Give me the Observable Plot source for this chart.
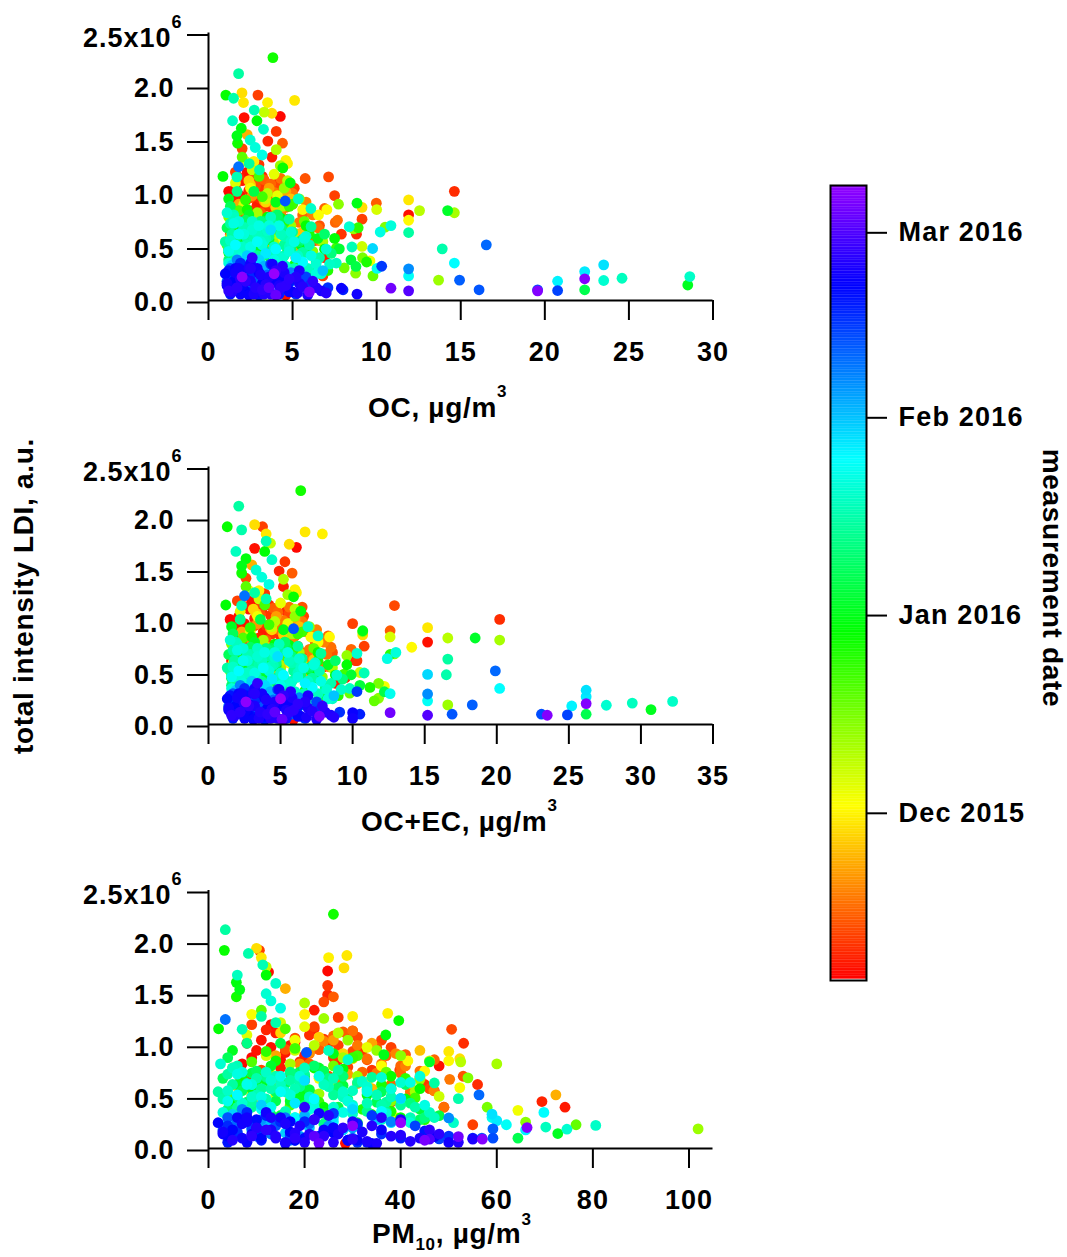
<!DOCTYPE html>
<html><head><meta charset="utf-8">
<script src="https://cdn.jsdelivr.net/npm/d3@7"></script>
<script src="https://cdn.jsdelivr.net/npm/@observablehq/plot@0.6"></script>
<style>
html,body{margin:0;padding:0;background:#fff;}
#root{position:relative;width:1067px;height:1257px;overflow:hidden;background:#fff;}
.ttl{font-family:"Liberation Sans",Arial,Helvetica,sans-serif;font-weight:bold;font-size:28px;letter-spacing:0.7px;fill:#000;}
</style></head><body><div id="root"></div>
<script>
// rows: [day, OC, OC+EC, PM10, LDI (x1e6)]
const nov = [
[5,1.3,1.6,6,0.62],[5,1.5,2.0,9,0.88],[6,1.6,2.1,11,1.05],[6,1.9,2.5,13,0.98],[7,2.0,2.8,14,1.12],
[7,2.2,2.9,16,0.93],[8,2.4,3.2,18,1.03],[8,2.6,3.5,19,0.84],[9,2.8,3.7,21,1.10],[9,3.0,4.0,23,0.96],
[10,3.2,4.3,24,1.06],[10,3.4,4.4,26,0.88],[11,3.6,4.8,27,1.00],[11,3.8,5.0,29,0.79],[12,4.0,5.4,30,0.94],
[12,4.2,5.6,31,1.08],[13,4.4,6.0,33,0.86],[13,4.6,6.2,35,0.98],[14,4.8,6.5,36,0.70],[14,5.0,6.8,37,0.90],
[15,5.3,7.0,38,0.62],[15,5.6,7.4,40,0.80],[16,6.0,7.8,42,0.55],[16,6.5,8.2,44,0.68],[5,1.2,1.5,8,1.02],
[6,1.4,1.9,10,0.95],[7,1.7,2.3,15,0.78],[8,1.8,2.4,12,1.15],[9,2.3,3.1,17,0.72],[10,2.5,3.3,20,0.66],
[11,2.7,3.6,22,1.18],[12,2.9,3.9,25,0.70],[13,3.1,4.2,19,0.58],[14,3.3,4.5,28,1.13],[15,3.5,4.7,32,0.74],
[16,3.7,4.9,21,0.92],[17,3.9,5.2,34,1.01],[17,4.1,5.5,27,0.66],[18,4.3,5.8,36,0.82],[18,4.5,6.1,24,1.04],
[12,4.9,6.6,46,0.58],[9,5.2,6.9,49,0.40],[10,6.3,8.0,47,0.56],[11,6.8,7.9,55,0.23],[8,7.2,9.5,69.4,0.455],
[7,6.9,8.8,74.2,0.40],[6,4.6,5.9,28.5,0.05],[10,7.9,10.3,45,0.62],[13,6.1,7.6,38,0.45],
[11,2.94,3.75,10.6,1.92],[6,2.12,3.2,12.5,1.71],[5,4.27,6.1,24.8,1.72],[10,4.03,5.3,24.8,1.58],[8,3.53,4.9,24.8,1.49],
[7,3.77,5.2,22,1.34],[12,7.14,12.9,50.6,1.155],[13,5.75,6.5,30,1.14],[9,14.62,20.2,53.1,1.02],[14,9.98,12.6,41,0.91],
[6,11.9,15.2,48,0.80],[11,9.13,10.8,39.8,0.76],[15,7.54,9.9,40,0.73],[16,7.67,8.5,44,0.75],[17,5.9,7.2,50.2,0.67],
[18,6.6,8.4,46.9,0.56],[16,5.4,7.0,49,0.40],
[5,1.4,1.8,7,0.82],[5,1.7,2.3,12,0.70],[6,2.0,2.7,15,0.86],[6,2.3,3.0,13,1.20],[7,2.6,3.4,17,1.00],
[7,2.9,3.8,20,0.90],[8,3.2,4.2,22,1.16],[8,3.5,4.6,25,1.02],[9,3.8,5.0,27,0.86],[9,4.1,5.4,29,1.10],
[10,4.4,5.8,32,0.95],[10,4.7,6.2,34,0.76],[11,5.1,6.6,36,1.05],[11,1.6,2.0,9,1.20],[12,1.9,2.4,11,0.76],
[12,2.2,2.8,14,0.64],[13,2.5,3.2,16,0.96],[13,2.8,3.6,18,1.07],[14,3.1,4.0,21,0.82],[14,3.4,4.4,23,0.96],
[15,3.7,4.8,26,1.09],[15,4.0,5.2,28,0.70],[16,4.3,5.6,30,1.14],[16,4.6,6.0,33,0.87],[17,5.0,6.5,31,1.00],
[17,5.4,7.0,35,0.73],[18,5.8,7.5,39,0.92],[18,6.2,8.0,41,0.80],[12,2.0,2.6,24,1.42],[10,3.0,3.9,27,1.27],
[14,4.4,5.8,26,1.47],[8,1.5,1.9,8,0.65],[13,6.6,8.6,53,0.70],[15,6.9,8.3,47,0.86],[11,7.5,10.0,38,0.98],
[9,8.8,10.2,56,0.62],
[19,1.4,1.8,9,0.55],[19,2.0,2.7,14,0.60],[20,2.6,3.4,18,0.98],[20,3.1,4.1,22,0.52],[21,3.6,4.7,26,1.05],
[21,4.2,5.4,31,0.63],[22,4.6,6.0,34,1.02],[22,5.1,6.7,38,0.48],[23,2.3,3.0,16,1.55],[23,3.7,4.8,72.3,0.52],
[24,1.7,2.2,11,0.45],[24,3.2,4.1,24,0.75],[25,2.9,3.7,20,0.35],[25,5.5,7.3,42,0.63],[26,4.0,5.2,30,0.87],
[19,2.3,3.0,19,0.82],[20,3.3,4.3,21,0.93],[21,4.4,5.7,29,0.72],[22,1.8,2.3,14,0.90],[23,2.8,3.6,18,0.70],
[24,3.9,5.1,34,0.58],[25,4.9,6.3,44,0.95],[26,1.3,1.7,6,0.60],[26,2.5,3.3,23,1.08],
[27,2.4,3.1,15,1.12],[27,3.4,4.4,28,0.92],[28,4.3,5.6,33,0.64],[29,1.5,2.0,9,0.52],[30,2.7,3.5,20,1.30],
[28,1.99,3.2,10,1.94],[29,2.08,4.0,11,1.85],[30,3.51,7.9,25,1.85],[29,5.12,6.7,28.8,1.87],[28,3.77,5.6,28.2,1.75],
[30,4.6,6.0,37.3,1.31],[30,4.70,6.1,30,1.28],[29,11.9,15.2,50,0.94],[28,9.13,10.7,52.3,0.87]
];
const dec = [
[1,7.04,8.4,41.5,0.85],[2,6.54,7.6,36,0.80],[1,11.9,14.1,45,0.75],[3,9.6,12.2,64.4,0.37],[3,2.5,3.4,18,1.05],
[3,3.3,4.4,23,0.68],[4,4.1,5.5,33,0.98],[2,1.8,2.4,13,0.72],[4,2.8,3.6,17,0.50],[1,5.6,7.1,50,0.85],
[2,4.4,5.7,52.3,0.59],[4,3.9,5.0,20,1.18],[3,1.4,1.9,7,0.42],[2,2.2,2.8,9,1.30],[4,5.0,6.6,39,0.30],
[8,3.31,4.3,12,1.76],[10,4.03,5.2,20,1.41],[12,4.27,5.5,24,1.26],[14,7.73,10.7,40,0.90],[6,10.0,12.6,46,0.85],
[9,12.55,16.6,52.5,0.84],[11,14.62,20.2,60,0.82],[13,8.63,9.6,44,0.67],[15,10.5,12.9,54,0.685],[7,9.13,10.5,48,0.505],
[16,9.16,11.8,58,0.40],[17,8.07,9.8,47,0.305],[18,9.78,11.5,76.5,0.23],[12,13.68,16.6,101.9,0.19],[14,8.75,11.8,66,0.255],
[5,1.6,2.2,8,1.10],[6,2.1,2.9,12,0.90],[7,2.6,3.5,15,1.22],[8,3.0,3.9,19,0.74],[9,3.5,4.6,22,1.00],
[10,3.8,4.9,26,0.58],[11,4.4,5.8,28,0.88],[12,4.9,6.3,31,0.70],[13,5.4,7.0,35,0.95],[14,6.2,7.9,38,0.46],
[15,1.2,1.6,5,0.78],[16,1.9,2.6,10,0.62],[17,2.9,3.7,16,0.35],[18,3.6,4.5,21,0.42],[9,4.7,6.0,27,1.12],
[11,6.8,8.6,43,0.55],[13,2.4,3.2,14,0.28],
[5,1.4,1.8,7,0.66],[6,2.4,3.2,14,0.52],[7,3.4,4.4,18,0.95],[8,4.2,5.4,24,0.36],[9,5.0,6.5,33,0.60],
[10,1.9,2.5,11,0.40],[11,2.9,3.8,17,0.82],[12,3.9,5.0,23,0.53],[13,4.5,6.0,29,1.05],[14,1.2,1.6,4,0.48],
[15,2.2,2.9,13,0.70],[16,3.2,4.2,20,0.56],[17,4.0,5.3,26,0.80],[18,5.7,7.3,37,0.74],
[19,1.1,1.5,4,0.52],[20,1.8,2.4,9,0.84],[21,2.5,3.3,13,0.60],[22,3.2,4.2,18,0.97],[23,3.9,5.1,23,0.45],
[24,4.5,5.9,27,0.73],[25,5.3,6.8,32,0.38],[26,6.0,7.6,36,0.62],[19,2.0,2.6,11,1.34],[21,3.0,3.9,16,1.16],
[23,4.8,6.2,30,0.88],[25,7.1,9.0,45,0.28],[20,1.5,2.0,6,0.25],[22,2.7,3.6,12,0.18],[24,8.9,12.6,41,0.68],
[19,1.6,2.1,7,0.68],[20,2.9,3.8,17,0.42],[21,4.1,5.4,25,0.66],[22,5.0,6.5,31,0.90],[23,1.3,1.7,5,0.33],
[24,2.2,2.9,12,0.94],[25,3.5,4.5,20,0.58],[26,4.7,6.1,29,0.46],[26,9.4,11.2,38,0.36],[22,7.6,9.4,43,0.49],
[27,3.83,6.4,26,2.27],[28,1.03,1.3,3.3,1.92],[29,2.88,3.9,12,1.68],[30,1.95,2.6,5.8,1.61],[31,1.69,2.3,6.5,1.54],
[27,1.73,2.3,5.8,1.47],[28,4.42,5.9,39.6,1.24],[29,0.86,1.2,2.1,1.16],[30,4.86,6.4,36.9,1.10],[31,8.83,10.7,36.5,0.91],
[27,2.3,3.0,14,0.85],[28,3.1,4.1,19,0.62],[29,3.7,4.8,24,0.40],[30,4.3,5.6,28,0.77],[31,5.5,7.1,33,0.52],
[27,1.4,1.9,7,0.70],[29,6.3,8.0,40,0.30],
[27,2.6,3.4,15,0.58],[28,3.5,4.6,22,0.78],[29,1.2,1.6,5,0.45],[30,2.0,2.6,10,0.66],[31,3.3,4.3,20,0.55],
[31,4.0,5.2,26,0.92],[30,6.9,8.8,41,0.48],[28,5.8,7.6,38,0.70],[29,7.5,9.6,44,0.58],[27,5.1,6.7,34,0.33]
];
const jan = [
[2,14.22,18.5,46,0.84],[3,7.78,9.9,40,0.483],[4,8.47,10.5,44,0.38],[5,8.77,12.2,48,0.318],[1,28.5,30.7,72.7,0.145],
[6,22.37,26.2,64.4,0.10],[1,1.2,1.6,5,0.95],[1,1.9,2.5,9,0.58],[2,2.4,3.2,13,0.80],[2,3.0,3.9,17,0.46],
[3,3.5,4.6,20,0.70],[3,4.1,5.4,24,0.34],[4,4.6,6.0,28,0.61],[4,5.2,6.8,31,0.25],[5,1.5,2.0,7,0.40],
[5,2.7,3.6,15,1.02],[6,3.3,4.4,19,0.74],[6,5.8,7.5,35,0.45],[1,6.5,8.3,38,0.58],[2,1.7,2.3,4,0.20],
[3,2.1,2.8,11,0.12],
[1,2.2,2.9,12,0.66],[1,3.2,4.1,19,0.50],[2,4.0,5.2,23,0.78],[3,1.4,1.8,6,0.62],[3,2.8,3.6,15,0.32],
[4,3.6,4.7,21,0.57],[5,4.4,5.7,27,0.40],[6,1.8,2.3,9,0.73],[6,2.5,3.3,14,0.46],
[7,1.1,1.4,3,0.68],[7,1.8,2.4,8,0.45],[8,2.2,2.9,10,0.75],[8,2.9,3.8,14,0.55],[9,3.4,4.5,18,0.72],
[9,3.9,5.1,21,0.38],[10,4.4,5.8,25,0.66],[10,4.9,6.4,29,0.48],[11,5.6,7.2,33,0.57],[11,6.4,8.1,37,0.36],
[12,1.4,1.9,5,0.30],[12,2.0,2.6,9,0.62],[13,2.6,3.4,12,0.70],[13,3.2,4.1,16,0.28],[14,3.8,4.9,20,0.72],
[14,4.5,5.9,26,0.52],[7,1.3,1.7,4,0.88],[8,2.5,3.3,13,0.33],[9,4.1,5.3,22,0.80],[10,5.1,6.6,30,0.22],
[11,7.3,9.3,42,0.44],[12,1.7,2.2,8,1.02],[13,3.6,4.7,19,0.60],[14,6.1,7.8,34,0.69],[9,2.0,2.7,10,0.16],
[11,4.0,5.2,45,0.30],
[7,3.0,3.9,16,0.63],[7,4.2,5.4,24,0.75],[8,1.6,2.1,7,0.56],[8,3.6,4.7,20,0.42],[9,4.7,6.1,27,0.59],
[10,1.2,1.6,4,0.38],[10,2.6,3.4,12,0.69],[11,3.1,4.0,17,0.74],[12,3.7,4.8,21,0.46],[12,4.3,5.6,25,0.68],
[13,1.9,2.5,9,0.40],[13,5.0,6.5,31,0.64],[14,2.3,3.0,11,0.58],[14,2.9,3.7,40,0.42],[7,5.4,7.0,36,0.55],
[9,6.9,8.8,41,0.62],[11,1.5,1.9,6,0.50],[13,4.0,5.1,33,0.36],[8,5.9,7.7,44,0.28],[10,3.3,4.3,28,0.70],
[12,2.6,3.3,24,0.24],
[15,1.79,2.1,3.5,2.12],[16,1.49,2.3,8.3,1.89],[17,2.72,4.0,11.3,1.78],[18,1.43,1.9,6,1.68],[19,3.27,4.4,14,1.60],
[20,2.48,3.3,12,1.50],[21,2.78,3.7,13,1.43],[22,3.19,4.2,15,1.36],[15,2.42,3.2,11,1.28],[16,3.03,4.0,14,1.22],
[17,1.69,2.3,7,1.155],[18,5.34,6.9,25,0.95],[19,6.09,7.6,29,0.86],[20,8.37,10.3,36,0.69],[21,10.85,13.0,44,0.70],
[22,10.21,12.4,42,0.64],[15,11.9,16.6,47,0.635],[16,13.9,16.5,52,0.483],[17,8.53,10.8,38,0.50],[18,24.59,29.4,70.2,0.208],
[19,28.62,32.2,80.6,0.224],[20,23.5,27.6,74.6,0.187],
[15,1.0,1.3,2,0.55],[15,1.3,1.7,4,0.72],[15,1.6,2.1,6,0.40],[16,1.9,2.5,8,0.63],[16,2.2,2.9,10,0.68],
[16,2.5,3.3,12,0.48],[17,2.8,3.7,14,0.70],[17,3.1,4.1,16,0.36],[17,3.4,4.5,18,0.58],[18,3.7,4.9,20,0.78],
[18,4.0,5.3,22,0.44],[18,4.3,5.6,24,0.62],[19,4.6,6.0,26,0.32],[19,4.9,6.4,28,0.55],[19,5.3,6.9,30,0.42],
[20,5.8,7.4,33,0.60],[20,6.4,8.2,37,0.34],[20,7.0,8.9,40,0.48],[21,1.2,1.6,3,0.35],[21,1.8,2.4,7,0.74],
[21,2.4,3.1,11,0.27],[22,3.0,3.9,15,0.70],[22,3.6,4.7,19,0.25],[22,4.2,5.5,23,0.70],[15,4.8,6.2,27,0.76],
[16,5.5,7.1,31,0.22],[17,6.0,7.7,35,0.52],[18,1.5,2.0,5,0.78],[19,2.0,2.6,9,0.50],[20,2.6,3.4,13,0.66],
[21,3.2,4.2,17,0.52],[22,3.9,5.0,21,0.38],[15,2.9,3.8,25,0.20],[16,4.5,5.8,36,0.42],[17,5.1,6.6,42,0.30],
[18,7.6,9.8,46,0.35],[19,3.5,4.6,32,0.65],[20,1.1,1.5,2.5,0.82],[21,5.7,7.3,38,0.58],
[15,1.4,1.8,5,0.62],[15,2.1,2.8,9,0.45],[15,3.3,4.3,17,0.66],[16,1.2,1.6,3,0.48],[16,2.7,3.5,13,0.58],
[16,3.6,4.6,19,0.66],[17,1.5,1.9,6,0.80],[17,2.3,3.0,10,0.52],[17,4.5,5.8,25,0.60],[18,2.0,2.6,8,0.36],
[18,2.9,3.7,15,0.62],[18,4.8,6.2,28,0.50],[19,1.3,1.7,4,0.56],[19,2.6,3.4,12,0.74],[19,3.9,5.0,21,0.50],
[20,1.7,2.2,7,0.44],[20,3.1,4.0,16,0.55],[20,4.4,5.7,26,0.40],[21,2.1,2.7,9,0.62],[21,3.6,4.6,19,0.70],
[21,4.8,6.2,29,0.46],[22,1.5,2.0,6,0.72],[22,2.5,3.2,11,0.50],[22,5.1,6.6,33,0.55],[15,5.6,7.2,37,0.45],
[16,6.6,8.5,43,0.40],[17,3.8,4.9,33,0.44],[18,5.9,7.6,47,0.30],[19,6.7,8.6,51,0.25],[20,3.9,5.0,36,0.28],
[21,1.9,2.4,22,0.40],[22,2.9,3.7,28,0.35],[16,1.6,2.1,18,0.30],[18,3.3,4.3,30,0.56],[20,4.9,6.3,40,0.64],
[22,6.1,7.8,45,0.42],[17,2.1,2.7,26,0.68],[19,7.2,9.2,30,0.34],[21,6.4,8.3,42,0.25],
[23,10.02,12.6,59,0.30],[24,11.9,15.2,62,0.23],[25,14.62,20.2,69.8,0.35],[26,20.76,25.2,66,0.18],[27,22.37,26.2,60,0.27],
[28,23.5,26.2,59,0.333],[29,9.76,15.2,40,0.486],[23,1.2,1.6,4,0.46],[23,1.8,2.4,8,0.62],[24,2.3,3.0,11,0.38],
[24,2.9,3.8,15,0.55],[25,3.4,4.4,18,0.30],[25,4.0,5.2,22,0.48],[26,4.6,5.9,26,0.26],[26,5.2,6.7,30,0.40],
[27,1.5,2.0,6,0.28],[27,2.6,3.4,13,0.20],[28,3.7,4.8,20,0.66],[29,4.9,6.3,28,0.18],[30,1.4,1.9,5,0.33],
[30,3.0,3.9,16,0.15],[31,2.2,2.9,10,0.24],[31,6.8,8.7,35,0.28],
[23,2.6,3.4,13,0.40],[24,3.5,4.5,19,0.26],[25,1.6,2.1,6,0.52],[26,2.4,3.1,12,0.34],[27,3.4,4.4,18,0.44],
[28,4.4,5.7,26,0.30],[29,1.2,1.6,4,0.24],[30,2.3,3.0,11,0.42],[31,3.8,4.9,21,0.20],[25,5.6,7.2,36,0.36],
[27,4.2,5.4,38,0.25],[29,3.0,3.9,30,0.38]
];
const feb = [
[1,1.3,1.7,4,0.30],[2,2.0,2.6,9,0.18],[3,2.8,3.6,14,0.26],[4,3.5,4.5,19,0.12],[5,4.4,5.6,25,0.22],
[6,11.9,15.2,50,0.296],[7,1.7,2.2,7,0.38],[8,3.2,4.2,17,0.08],
[1,2.4,3.1,12,0.24],[2,3.3,4.3,20,0.32],[3,1.5,1.9,6,0.14],[4,4.2,5.4,30,0.20],[5,2.2,2.9,11,0.28],
[6,3.0,3.9,24,0.16],[7,4.9,6.3,38,0.26],[8,1.9,2.4,16,0.30],
[9,1.79,2.5,3.5,1.25],[10,16.52,19.9,56.3,0.52],[11,14.93,18.3,59.2,0.19],[12,16.09,16.9,56.9,0.10],[13,19.57,23.1,59.2,0.10],
[14,20.76,24.9,48,0.093],[15,10.3,10.3,34,0.32],[12,4.56,5.9,20.4,0.93],
[9,1.1,1.4,3,0.18],[10,1.6,2.1,6,0.26],[11,2.1,2.8,10,0.12],[12,2.7,3.5,14,0.22],[13,3.3,4.3,18,0.08],
[14,3.9,5.0,22,0.28],[15,4.5,5.8,27,0.15],[16,5.2,6.7,31,0.06],[17,1.4,1.8,5,0.10],[18,2.4,3.1,12,0.32],
[19,3.0,3.9,16,0.05],[20,4.2,5.4,26,0.20],[16,6.0,7.7,36,0.14],[17,1.9,2.5,8,0.35],[18,3.6,4.6,40,0.10],
[19,4.8,6.2,45,0.17],[20,2.2,2.9,29,0.08],
[9,2.5,3.2,13,0.14],[10,3.5,4.5,21,0.24],[11,4.5,5.8,30,0.10],[12,1.3,1.7,4,0.30],[13,2.0,2.6,9,0.20],
[14,2.9,3.8,17,0.13],[15,3.7,4.8,26,0.34],[16,1.6,2.0,11,0.16],[17,2.6,3.4,20,0.26],[18,4.2,5.4,33,0.06],
[19,1.2,1.5,7,0.28],[20,3.3,4.2,23,0.12],[14,5.8,7.5,43,0.22],[16,7.1,9.1,50,0.12],[18,8.0,10.5,55,0.10],
[21,1.0,1.3,2,0.25],[21,1.3,1.7,4,0.12],[22,1.6,2.1,6,0.30],[22,1.9,2.5,8,0.06],[23,2.2,2.8,10,0.20],
[23,2.5,3.2,12,0.35],[24,2.8,3.6,14,0.10],[24,3.1,4.0,16,0.24],[25,3.4,4.4,18,0.15],[25,3.7,4.8,20,0.06],
[26,4.0,5.2,22,0.28],[26,4.3,5.6,24,0.12],[22,4.6,6.0,26,0.20],[22,5.0,6.4,29,0.08],[24,5.4,6.9,32,0.16],
[24,5.9,7.5,35,0.05],[25,6.4,8.1,38,0.12],[25,7.0,8.7,42,0.07],[21,1.5,1.9,5,0.18],[22,2.0,2.6,9,0.14],
[23,2.9,3.7,15,0.30],[24,3.6,4.6,19,0.22],[25,4.4,5.7,25,0.32],[26,1.2,1.6,30,0.09],[22,2.4,3.1,34,0.05],
[24,3.3,4.2,44,0.10],[25,4.1,5.3,52,0.06],[22,7.9,10.0,47,0.115],[23,8.83,10.0,50,0.059],[24,6.7,8.5,55,0.09],
[25,5.6,7.2,40,0.13],[26,2.6,3.4,20,0.40],
[21,2.1,2.7,11,0.10],[21,3.0,3.9,17,0.26],[22,3.9,5.0,24,0.18],[22,4.8,6.2,31,0.08],[23,1.1,1.4,3,0.16],
[23,1.8,2.3,7,0.24],[24,2.4,3.1,13,0.30],[24,4.2,5.4,27,0.14],[25,5.2,6.7,34,0.22],[25,1.4,1.8,5,0.08],
[26,2.2,2.8,12,0.18],[26,3.2,4.1,18,0.10],[23,3.8,4.9,23,0.34],[23,1.6,2.0,8,0.26],[24,2.7,3.5,16,0.06],
[24,4.5,5.8,30,0.26],[25,1.9,2.5,10,0.20],[25,3.5,4.5,21,0.14],[24,5.4,6.9,40,0.28],[26,6.2,7.9,46,0.18],
[21,1.3,1.7,26,0.15],[25,2.5,3.2,36,0.30],
[16,1.6,2.1,6,0.16],[17,2.6,3.4,15,0.26],[18,4.4,5.7,31,0.24],[19,1.3,1.7,4,0.06],[20,2.0,2.6,10,0.28],
[21,3.0,3.9,18,0.08],[22,4.2,5.4,36,0.18],[23,1.5,1.9,7,0.10],[24,2.5,3.2,13,0.18],[25,3.3,4.3,26,0.06],
[26,4.6,5.9,48,0.14],[26,1.7,2.2,9,0.12],[17,1.4,1.8,4,0.22],[19,2.3,3.0,11,0.08],[21,3.2,4.1,17,0.16],
[23,1.8,2.3,8,0.30],[25,2.8,3.6,14,0.12],[26,4.8,6.2,28,0.20],[20,3.6,4.6,20,0.10],[22,1.1,1.4,3,0.14],
[24,5.3,6.8,33,0.07]
];
const mar = [
[1,11.9,15.2,46,0.09],[4,10.85,12.6,52,0.115],[6,22.37,26.2,66.3,0.203],[6,19.57,23.5,57,0.09],[3,4.0,5.1,23,0.05],
[7,2.0,2.6,30,0.22],[5,6.0,7.7,45,0.08],[2,3.6,4.6,22,0.12],[8,3.9,5.0,40,0.25]
];

const yTicks = [0, 0.5e6, 1e6, 1.5e6, 2e6, 2.5e6];
const ocTicks = [0, 5, 10, 15, 20, 25, 30];
const ocecTicks = [0, 5, 10, 15, 20, 25, 30, 35];
const pmTicks = [0, 20, 40, 60, 80, 100];
const monthTicks = [Date.UTC(2015, 11, 1), Date.UTC(2016, 0, 1), Date.UTC(2016, 1, 1), Date.UTC(2016, 2, 1)].map(d => new Date(d));
const dateStart = Date.UTC(2015, 10, 4, 19);
const dateEnd = Date.UTC(2016, 2, 8, 10);

function rows(arr, y, m) {
  return arr.map(([d, oc, ocec, pm, ldi]) => {
    const date = new Date(Date.UTC(y, m, d, 12));
    return {date, t: +date, oc, ocec, pm10: pm, ldi: ldi * 1e6};
  });
}
const data = [...rows(nov, 2015, 10), ...rows(dec, 2015, 11), ...rows(jan, 2016, 0), ...rows(feb, 2016, 1), ...rows(mar, 2016, 2)]
  .sort((a, b) => a.t - b.t);

const colorScale = {type: "linear", domain: [dateStart, dateEnd], interpolate: t => d3.hsl(275 * t, 1, 0.5).formatHex()};
const FONT = '"Liberation Sans", Arial, Helvetica, sans-serif';
const root = document.getElementById("root");
function place(el, left, top) { el.style.position = "absolute"; el.style.left = left + "px"; el.style.top = top + "px"; root.appendChild(el); }

function fmtY(d) { return d === 2.5e6 ? "2.5x10" : (d / 1e6).toFixed(1); }

function panel(xKey, xDomain, xTicks, top, yTop, yBottom) {
  const svg = Plot.plot({
    width: 742, height: yBottom - top + 72,
    marginLeft: 208, marginRight: 29.5, marginTop: yTop - top, marginBottom: 72,
    style: {fontFamily: FONT, fontSize: "27px", fontWeight: "bold", letterSpacing: "1px", background: "transparent", color: "black", overflow: "visible"},
    x: {domain: xDomain, label: null},
    y: {domain: [0, 2.5e6], label: null},
    color: colorScale,
    marks: [
      Plot.dot(data, {x: xKey, y: "ldi", fill: "t", r: 5.4}),
      Plot.ruleX([0], {stroke: "black", strokeWidth: 2}),
      Plot.ruleY([0], {stroke: "black", strokeWidth: 2}),
      Plot.axisX({ticks: xTicks, tickSize: 20, tickPadding: 21, strokeWidth: 2, tickFormat: d => String(d), label: null}),
      Plot.axisY({ticks: yTicks, tickSize: 21, tickPadding: 13, strokeWidth: 2, dy: 2, tickFormat: fmtY, label: null})
    ]
  });
  svg.querySelectorAll("text").forEach(t => {
    if (t.textContent === "2.5x10") {
      t.textContent = "";
      const a = document.createElementNS("http://www.w3.org/2000/svg", "tspan");
      a.textContent = "2.5x10"; a.setAttribute("dy", "3"); a.setAttribute("dx", "8");
      const b = document.createElementNS("http://www.w3.org/2000/svg", "tspan");
      b.textContent = "6"; b.setAttribute("dy", "-19"); b.setAttribute("font-size", "18px");
      t.appendChild(a); t.appendChild(b);
    }
  });
  place(svg, 0, top);
}

panel("oc", [0, 30], ocTicks, 0, 32.5, 300);
panel("ocec", [0, 35], ocecTicks, 430, 466.5, 724);
panel("pm10", [0, 105], pmTicks, 855, 890, 1148);

// colour bar
const slices = d3.utcHour.every(6).range(new Date(dateStart), new Date(dateEnd));
const bar = Plot.plot({
  width: 267, height: 870, marginLeft: 30, marginRight: 201, marginTop: 35, marginBottom: 40,
  style: {fontFamily: FONT, fontSize: "27px", fontWeight: "bold", letterSpacing: "1.2px", background: "transparent", color: "black", overflow: "visible"},
  x: {domain: [0, 1], axis: null},
  y: {type: "utc", domain: [new Date(dateStart), new Date(dateEnd)], label: null},
  color: colorScale,
  marks: [
    Plot.rect(slices, {x1: 0, x2: 1, y1: d => d, y2: d => new Date(Math.min(+d + 7 * 3600e3, dateEnd)), fill: d => +d}),
    Plot.frame({stroke: "black", strokeWidth: 2}),
    Plot.axisY({anchor: "right", ticks: monthTicks, tickFormat: d3.utcFormat("%b %Y"), tickSize: 20, tickPadding: 12, strokeWidth: 2, label: null})
  ]
});
place(bar, 800, 150);

// axis titles
const ov = d3.create("svg").attr("width", 1067).attr("height", 1257)
  .style("position", "absolute").style("left", "0px").style("top", "0px").style("pointer-events", "none");
function title(x, y, parts) {
  const t = ov.append("text").attr("class", "ttl").attr("x", x).attr("y", y);
  parts.forEach(([s, dy, size]) => {
    const ts = t.append("tspan").text(s);
    if (dy) ts.attr("dy", dy);
    if (size) ts.attr("font-size", size);
  });
  return t;
}
title(368, 417, [["OC, µg/m"], ["3", -20, "17px"]]);
title(361, 831, [["OC+EC, µg/m"], ["3", -20, "17px"]]);
title(372, 1243, [["PM"], ["10", 7, "17px"], [", µg/m", -7], ["3", -18, "17px"]]);
ov.append("text").attr("class", "ttl").attr("text-anchor", "middle")
  .attr("transform", "translate(33,596) rotate(-90)").text("total intensity LDI, a.u.");
ov.append("text").attr("class", "ttl").attr("text-anchor", "middle")
  .attr("transform", "translate(1043,578) rotate(90)").text("measurement date");
root.appendChild(ov.node());
</script>
</body></html>
